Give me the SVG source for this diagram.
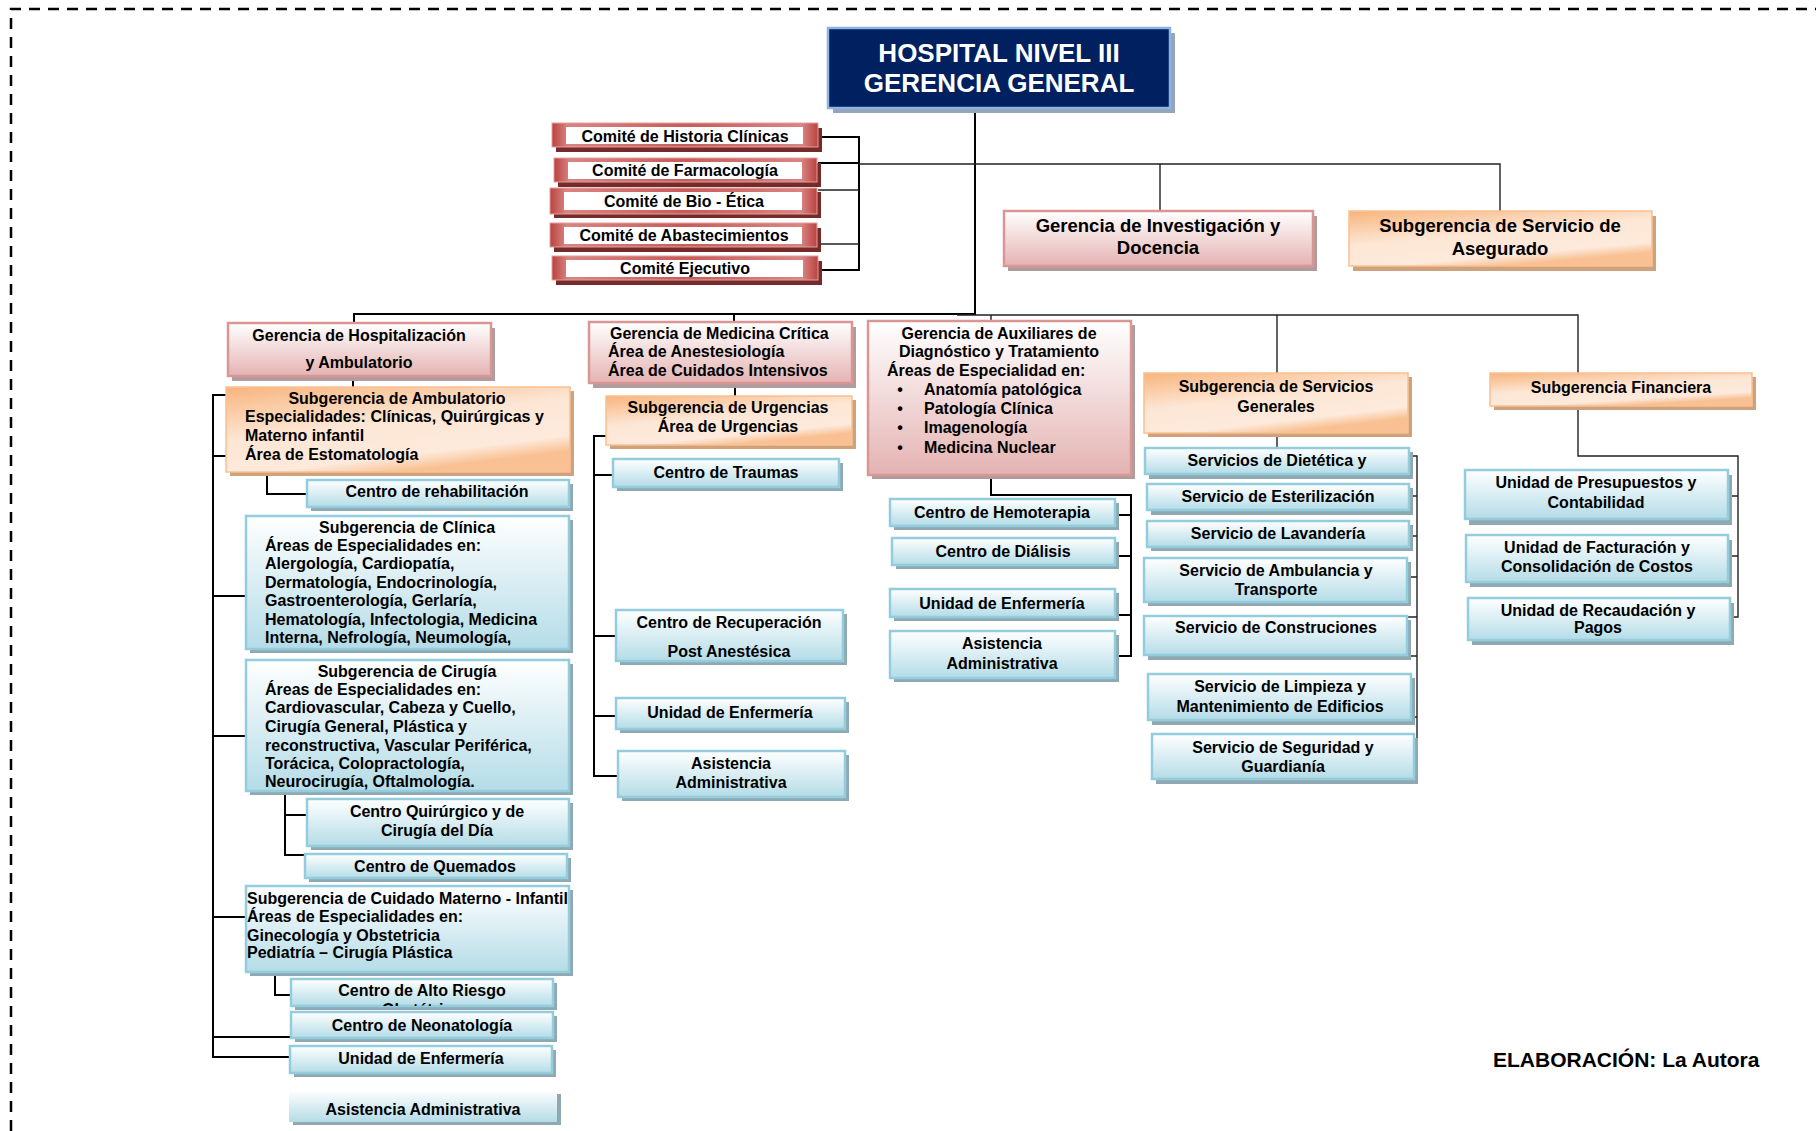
<svg xmlns="http://www.w3.org/2000/svg" width="1816" height="1131" viewBox="0 0 1816 1131">
<style>
text{font-family:"Liberation Sans",Arial,Helvetica,sans-serif;font-weight:bold;font-size:16px;fill:#000}
.c{text-anchor:middle}
.tt{font-size:26px;fill:#fff;text-anchor:middle}
.tl{font-size:18.5px}
.ft{font-size:21px}
.blue{fill:url(#gBlue);stroke:#93CDDD;stroke-width:2.5}
.bsh{fill:#8FA8B2}
.pink{fill:url(#gPink);stroke:#D99694;stroke-width:2.5}
.psh{fill:#B09C9C}
.or{fill:url(#gOr);stroke:#FAC090;stroke-width:1.5}
.osh{fill:#CFA27E}
.red{fill:url(#gRed);stroke:#E3A09E;stroke-width:1}
.rsh{fill:#742B29}
.in{fill:#fff}
.ln{fill:none;stroke:#000;stroke-width:2}
.lt{fill:none;stroke:#222;stroke-width:1.4}
.dash{fill:none;stroke:#000;stroke-width:2.5;stroke-dasharray:11 8}
</style>
<defs>
<linearGradient id="gBlue" x1="0" y1="0" x2="0" y2="1"><stop offset="0" stop-color="#FFFFFF"/><stop offset="1" stop-color="#B4DCE7"/></linearGradient>
<linearGradient id="gPink" x1="0" y1="0" x2="0" y2="1"><stop offset="0" stop-color="#FFFFFF"/><stop offset="1" stop-color="#E4B3B2"/></linearGradient>
<linearGradient id="gOr" x1="0" y1="0" x2="0.5" y2="1"><stop offset="0" stop-color="#F8B47C"/><stop offset="0.5" stop-color="#FDE6D4"/><stop offset="0.85" stop-color="#FDEADC"/><stop offset="1" stop-color="#F9C193"/></linearGradient>
<linearGradient id="gRed" x1="0" y1="0" x2="1" y2="0"><stop offset="0" stop-color="#B9423F"/><stop offset="0.06" stop-color="#D98583"/><stop offset="0.5" stop-color="#C75C59"/><stop offset="0.94" stop-color="#D98583"/><stop offset="1" stop-color="#B9423F"/></linearGradient>
<clipPath id="cClin"><rect x="246" y="516" width="323" height="133"/></clipPath>
<clipPath id="cCir"><rect x="246" y="660" width="323" height="131"/></clipPath>
<clipPath id="cMat"><rect x="246" y="886" width="323" height="86"/></clipPath>
<clipPath id="cAlto"><rect x="291" y="979" width="262" height="27"/></clipPath>
</defs>

<path class="dash" d="M11 1131 V9 H1816"/>

<g id="connectors">
<path class="ln" d="M975 108 V314 H354 V322"/>
<path class="lt" d="M957 315 H1578 V373"/>
<path class="ln" d="M734 314 V322"/>
<path class="lt" d="M991 315 V321"/>
<path class="lt" d="M1277 315 V373"/>
<path class="ln" d="M818 137 H859 V270 H818"/>
<path class="lt" d="M818 190 H859 M818 244 H859"/>
<path class="ln" d="M818 163 H859"/>
<path class="lt" d="M859 164 H1500 V211 M1160 164 V211"/>
<path class="ln" d="M353 376 V387"/>
<path class="ln" d="M226 395 H213 V1057 H290 M213 456 H226 M213 596 H246 M213 736 H246 M213 917 H246 M213 1037 H291"/>
<path class="ln" d="M267 472 V494 H307"/>
<path class="ln" d="M285 791 V855 H305 M285 815 H307"/>
<path class="ln" d="M275 972 V995 H291"/>
<path class="ln" d="M735 383 V396"/>
<path class="ln" d="M606 436 H594 V776 H618 M594 475 H613 M594 636 H616 M594 716 H616"/>
<path class="ln" d="M991 475 V495 H1131 V656 H1115 M1115 515 H1131 M1115 556 H1131 M1115 615 H1131"/>
<path class="lt" d="M1277 433 V448"/>
<path class="lt" d="M1409 456 H1417 V757 H1414 M1409 496 H1417 M1409 536 H1417 M1407 577 H1417 M1407 617 H1417 M1397 656 H1417 M1411 717 H1417"/>
<path class="lt" d="M1578 406 V456 H1738 V617 H1730 M1728 496 H1738 M1728 556 H1738"/>
</g>

<g id="n-title">
<rect x="833" y="33" width="342" height="80" fill="#97A5B9"/>
<rect x="828" y="28" width="342" height="80" fill="#002060" stroke="#8DB3E2" stroke-width="2.5"/>
<text class="tt" x="999" y="62">HOSPITAL NIVEL III</text>
<text class="tt" x="999" y="92">GERENCIA GENERAL</text>
</g>

<g id="n-comite-historia">
<rect class="rsh" x="556" y="128" width="266" height="24"/>
<rect class="red" x="552" y="123" width="266" height="24"/>
<rect class="in" x="566" y="127" width="237" height="17"/>
<text class="c" x="685" y="142">Comité de Historia Clínicas</text>
</g>
<g id="n-comite-farmacologia">
<rect class="rsh" x="558" y="163" width="263" height="24"/>
<rect class="red" x="554" y="158" width="263" height="24"/>
<rect class="in" x="568" y="162" width="234" height="17"/>
<text class="c" x="685" y="176">Comité de Farmacología</text>
</g>
<g id="n-comite-bioetica">
<rect class="rsh" x="554" y="192" width="267" height="26"/>
<rect class="red" x="550" y="188" width="267" height="26"/>
<rect class="in" x="564" y="192" width="238" height="18"/>
<text class="c" x="684" y="207">Comité de Bio - Ética</text>
</g>
<g id="n-comite-abastecimientos">
<rect class="rsh" x="554" y="228" width="267" height="24"/>
<rect class="red" x="550" y="223" width="267" height="24"/>
<rect class="in" x="564" y="227" width="238" height="17"/>
<text class="c" x="684" y="241">Comité de Abastecimientos</text>
</g>
<g id="n-comite-ejecutivo">
<rect class="rsh" x="556" y="261" width="266" height="24"/>
<rect class="red" x="552" y="256" width="266" height="24"/>
<rect class="in" x="566" y="260" width="237" height="17"/>
<text class="c" x="685" y="274">Comité Ejecutivo</text>
</g>

<g id="n-investigacion">
<rect class="psh" x="1008" y="216" width="309" height="55"/>
<rect class="pink" x="1004" y="211" width="309" height="55"/>
<text class="c tl" x="1158" y="232">Gerencia de Investigación y</text>
<text class="c tl" x="1158" y="254">Docencia</text>
</g>
<g id="n-asegurado">
<rect class="osh" x="1353" y="216" width="303" height="55"/>
<rect class="or" x="1349" y="211" width="303" height="55"/>
<text class="c tl" x="1500" y="232">Subgerencia de Servicio de</text>
<text class="c tl" x="1500" y="255">Asegurado</text>
</g>

<g id="n-hospitalizacion">
<rect class="psh" x="232" y="328" width="263" height="53"/>
<rect class="pink" x="228" y="323" width="263" height="53"/>
<text class="c" x="359" y="341">Gerencia de Hospitalización</text>
<text class="c" x="359" y="368">y Ambulatorio</text>
</g>
<g id="n-sub-ambulatorio">
<rect class="osh" x="230" y="391" width="344" height="85"/>
<rect class="or" x="226" y="387" width="344" height="85"/>
<text class="c" x="397" y="404">Subgerencia de Ambulatorio</text>
<text x="245" y="422">Especialidades: Clínicas, Quirúrgicas y</text>
<text x="245" y="441">Materno infantil</text>
<text x="245" y="460">Área de Estomatología</text>
</g>
<g id="n-rehabilitacion">
<rect class="bsh" x="311" y="484" width="262" height="27"/>
<rect class="blue" x="307" y="480" width="262" height="27"/>
<text class="c" x="437" y="497">Centro de rehabilitación</text>
</g>
<g id="n-sub-clinica">
<rect class="bsh" x="250" y="520" width="323" height="133"/>
<rect class="blue" x="246" y="516" width="323" height="133"/>
<g clip-path="url(#cClin)">
<text class="c" x="407" y="533">Subgerencia de Clínica</text>
<text x="265" y="551">Áreas de Especialidades en:</text>
<text x="265" y="569">Alergología, Cardiopatía,</text>
<text x="265" y="588">Dermatología, Endocrinología,</text>
<text x="265" y="606">Gastroenterología, Gerlaría,</text>
<text x="265" y="625">Hematología, Infectologia, Medicina</text>
<text x="265" y="643">Interna, Nefrología, Neumología,</text>
</g>
</g>
<g id="n-sub-cirugia">
<rect class="bsh" x="250" y="664" width="323" height="131"/>
<rect class="blue" x="246" y="660" width="323" height="131"/>
<g clip-path="url(#cCir)">
<text class="c" x="407" y="677">Subgerencia de Cirugía</text>
<text x="265" y="695">Áreas de Especialidades en:</text>
<text x="265" y="713">Cardiovascular, Cabeza y Cuello,</text>
<text x="265" y="732">Cirugía General, Plástica y</text>
<text x="265" y="751">reconstructiva, Vascular Periférica,</text>
<text x="265" y="769">Torácica, Colopractología,</text>
<text x="265" y="787">Neurocirugía, Oftalmología.</text>
</g>
</g>
<g id="n-quirurgico">
<rect class="bsh" x="311" y="803" width="262" height="47"/>
<rect class="blue" x="307" y="799" width="262" height="47"/>
<text class="c" x="437" y="817">Centro Quirúrgico y de</text>
<text class="c" x="437" y="836">Cirugía del Día</text>
</g>
<g id="n-quemados">
<rect class="bsh" x="309" y="858" width="262" height="24"/>
<rect class="blue" x="305" y="854" width="262" height="24"/>
<text class="c" x="435" y="872">Centro de Quemados</text>
</g>
<g id="n-sub-materno">
<rect class="bsh" x="250" y="890" width="323" height="86"/>
<rect class="blue" x="246" y="886" width="323" height="86"/>
<g clip-path="url(#cMat)">
<text x="247" y="904">Subgerencia de Cuidado Materno - Infantil</text>
<text x="247" y="922">Áreas de Especialidades en:</text>
<text x="247" y="941">Ginecología y Obstetricia</text>
<text x="247" y="958">Pediatría – Cirugía Plástica</text>
</g>
</g>
<g id="n-alto-riesgo">
<rect class="bsh" x="295" y="983" width="262" height="27"/>
<rect class="blue" x="291" y="979" width="262" height="27"/>
<g clip-path="url(#cAlto)">
<text class="c" x="422" y="996">Centro de Alto Riesgo</text>
<text class="c" x="422" y="1015">Obstétrico</text>
</g>
</g>
<g id="n-neonatologia">
<rect class="bsh" x="295" y="1016" width="262" height="26"/>
<rect class="blue" x="291" y="1012" width="262" height="26"/>
<text class="c" x="422" y="1031">Centro de Neonatología</text>
</g>
<g id="n-enfermeria-hosp">
<rect class="bsh" x="294" y="1050" width="262" height="27"/>
<rect class="blue" x="290" y="1046" width="262" height="27"/>
<text class="c" x="421" y="1064">Unidad de Enfermería</text>
</g>
<g id="n-asistencia-hosp">
<rect class="bsh" x="293" y="1094" width="268" height="31"/>
<rect x="289" y="1090" width="268" height="32" fill="url(#gBlue)"/>
<text class="c" x="423" y="1115">Asistencia Administrativa</text>
</g>

<g id="n-medicina-critica">
<rect class="psh" x="593" y="327" width="263" height="61"/>
<rect class="pink" x="589" y="322" width="263" height="61"/>
<text x="610" y="339">Gerencia de Medicina Crítica</text>
<text x="608" y="357">Área de Anestesiología</text>
<text x="608" y="376">Área de Cuidados Intensivos</text>
</g>
<g id="n-sub-urgencias">
<rect class="osh" x="610" y="400" width="246" height="49"/>
<rect class="or" x="606" y="396" width="246" height="49"/>
<text class="c" x="728" y="413">Subgerencia de Urgencias</text>
<text class="c" x="728" y="432">Área de Urgencias</text>
</g>
<g id="n-traumas">
<rect class="bsh" x="617" y="463" width="226" height="28"/>
<rect class="blue" x="613" y="459" width="226" height="28"/>
<text class="c" x="726" y="478">Centro de Traumas</text>
</g>
<g id="n-recuperacion">
<rect class="bsh" x="620" y="614" width="227" height="51"/>
<rect class="blue" x="616" y="610" width="227" height="51"/>
<text class="c" x="729" y="628">Centro de Recuperación</text>
<text class="c" x="729" y="657">Post Anestésica</text>
</g>
<g id="n-enfermeria-critica">
<rect class="bsh" x="620" y="702" width="229" height="31"/>
<rect class="blue" x="616" y="698" width="229" height="31"/>
<text class="c" x="730" y="718">Unidad de Enfermería</text>
</g>
<g id="n-asistencia-critica">
<rect class="bsh" x="622" y="755" width="227" height="46"/>
<rect class="blue" x="618" y="751" width="227" height="46"/>
<text class="c" x="731" y="769">Asistencia</text>
<text class="c" x="731" y="788">Administrativa</text>
</g>

<g id="n-auxiliares">
<rect class="psh" x="872" y="325" width="263" height="154"/>
<rect class="pink" x="868" y="321" width="263" height="154"/>
<text class="c" x="999" y="339">Gerencia de Auxiliares de</text>
<text class="c" x="999" y="357">Diagnóstico y Tratamiento</text>
<text x="887" y="376">Áreas de Especialidad en:</text>
<text class="c" x="900" y="395">•</text><text x="924" y="395">Anatomía patológica</text>
<text class="c" x="900" y="414">•</text><text x="924" y="414">Patología Clínica</text>
<text class="c" x="900" y="433">•</text><text x="924" y="433">Imagenología</text>
<text class="c" x="900" y="453">•</text><text x="924" y="453">Medicina Nuclear</text>
</g>
<g id="n-hemoterapia">
<rect class="bsh" x="894" y="503" width="225" height="27"/>
<rect class="blue" x="890" y="499" width="225" height="27"/>
<text class="c" x="1002" y="518">Centro de Hemoterapia</text>
</g>
<g id="n-dialisis">
<rect class="bsh" x="896" y="542" width="223" height="27"/>
<rect class="blue" x="892" y="538" width="223" height="27"/>
<text class="c" x="1003" y="557">Centro de Diálisis</text>
</g>
<g id="n-enfermeria-aux">
<rect class="bsh" x="894" y="593" width="225" height="28"/>
<rect class="blue" x="890" y="589" width="225" height="28"/>
<text class="c" x="1002" y="609">Unidad de Enfermería</text>
</g>
<g id="n-asistencia-aux">
<rect class="bsh" x="894" y="635" width="225" height="47"/>
<rect class="blue" x="890" y="631" width="225" height="47"/>
<text class="c" x="1002" y="649">Asistencia</text>
<text class="c" x="1002" y="669">Administrativa</text>
</g>

<g id="n-servicios-generales">
<rect class="osh" x="1148" y="377" width="264" height="60"/>
<rect class="or" x="1144" y="373" width="264" height="60"/>
<text class="c" x="1276" y="392">Subgerencia de Servicios</text>
<text class="c" x="1276" y="412">Generales</text>
</g>
<g id="n-dietetica">
<rect class="bsh" x="1149" y="452" width="264" height="27"/>
<rect class="blue" x="1145" y="448" width="264" height="26"/>
<text class="c" x="1277" y="466">Servicios de Dietética y</text>
</g>
<g id="n-esterilizacion">
<rect class="bsh" x="1151" y="488" width="262" height="27"/>
<rect class="blue" x="1147" y="484" width="262" height="26"/>
<text class="c" x="1278" y="502">Servicio de Esterilización</text>
</g>
<g id="n-lavanderia">
<rect class="bsh" x="1151" y="525" width="262" height="26"/>
<rect class="blue" x="1147" y="521" width="262" height="26"/>
<text class="c" x="1278" y="539">Servicio de Lavandería</text>
</g>
<g id="n-ambulancia">
<rect class="bsh" x="1148" y="562" width="263" height="44"/>
<rect class="blue" x="1144" y="558" width="263" height="44"/>
<text class="c" x="1276" y="576">Servicio de Ambulancia y</text>
<text class="c" x="1276" y="595">Transporte</text>
</g>
<g id="n-construcciones">
<rect class="bsh" x="1148" y="620" width="263" height="40"/>
<rect class="blue" x="1144" y="616" width="263" height="39"/>
<text class="c" x="1276" y="633">Servicio de Construciones</text>
</g>
<g id="n-limpieza">
<rect class="bsh" x="1152" y="678" width="263" height="47"/>
<rect class="blue" x="1148" y="674" width="263" height="46"/>
<text class="c" x="1280" y="692">Servicio de Limpieza y</text>
<text class="c" x="1280" y="712">Mantenimiento de Edificios</text>
</g>
<g id="n-seguridad">
<rect class="bsh" x="1156" y="738" width="262" height="46"/>
<rect class="blue" x="1152" y="734" width="262" height="45"/>
<text class="c" x="1283" y="753">Servicio de Seguridad y</text>
<text class="c" x="1283" y="772">Guardianía</text>
</g>

<g id="n-financiera">
<rect class="osh" x="1494" y="377" width="262" height="33"/>
<rect class="or" x="1490" y="373" width="262" height="33"/>
<text class="c" x="1621" y="393">Subgerencia Financiera</text>
</g>
<g id="n-presupuestos">
<rect class="bsh" x="1469" y="475" width="263" height="50"/>
<rect class="blue" x="1465" y="470" width="263" height="49"/>
<text class="c" x="1596" y="488">Unidad de Presupuestos y</text>
<text class="c" x="1596" y="508">Contabilidad</text>
</g>
<g id="n-facturacion">
<rect class="bsh" x="1470" y="540" width="262" height="47"/>
<rect class="blue" x="1466" y="535" width="262" height="47"/>
<text class="c" x="1597" y="553">Unidad de Facturación y</text>
<text class="c" x="1597" y="572">Consolidación de Costos</text>
</g>
<g id="n-recaudacion">
<rect class="bsh" x="1472" y="603" width="262" height="42"/>
<rect class="blue" x="1468" y="598" width="262" height="42"/>
<text class="c" x="1598" y="616">Unidad de Recaudación y</text>
<text class="c" x="1598" y="633">Pagos</text>
</g>

<text class="ft" x="1493" y="1067">ELABORACIÓN: La Autora</text>
</svg>
